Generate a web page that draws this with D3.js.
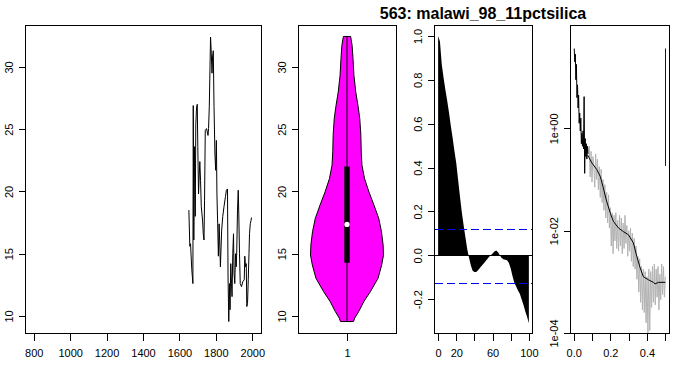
<!DOCTYPE html>
<html>
<head>
<meta charset="utf-8">
<script src="https://cdn.jsdelivr.net/npm/d3@7"></script>
<style>
body { margin: 0; background: #fff; }
svg { font-family: "Liberation Sans", Arial, sans-serif; }
.tick text { font-size: 11px; fill: #000; }
.tick line { stroke: #000; }
</style>
</head>
<body>
<script>
// ---- data ----
var title = "563: malawi_98_11pctsilica";

// raw series (year, value)
var years = [1652,1657,1661,1668,1674,1676,1679,1683,1687,1690,1694,1698,1701,1705,1709,1712,1716,1720,1727,1731,
  1735,1738,1742,1749,1757,1760,1764,1768,1771,1775,1779,1782,1786,1790,1795,1799,1803,1806,1810,1814,
  1818,1821,1825,1829,1832,1838,1845,1853,1858,1864,1867,1871,1875,1878,1882,1886,1889,1893,1897,1900,
  1904,1908,1912,1915,1919,1923,1926,1930,1934,1941,1948,1956,1959,1963,1967,1970,1974,1978,1982,1985,
  1989,1993,1996];
var values = [18.5,15.6,15.8,13.7,12.6,26.9,16.1,23.6,18.0,25.4,26.7,27.0,23.6,19.8,21.4,22.4,20.9,18.8,17.7,16.6,
  16.1,19.3,24.9,25.05,24.5,25.05,26.8,30.0,32.4,31.1,29.5,30.8,31.3,26.8,23.0,21.7,24.1,19.8,17.4,14.8,
  17.4,16.1,13.95,15.6,16.9,18.0,18.8,19.6,20.1,20.2,13.2,9.55,12.6,10.5,14.2,12.6,11.55,15.0,16.6,13.4,
  12.6,15.0,13.95,15.3,18.5,20.1,18.2,15.0,12.6,12.35,12.75,12.9,14.8,13.95,14.2,10.75,11.0,12.9,15.0,16.6,
  17.4,17.65,17.9];

// violin outline (value, relative density) and box stats
var violinAt = [9.55,9.82,10.35,11.15,11.95,13.02,14.09,14.89,15.69,16.76,17.83,18.90,19.97,21.04,22.11,23.18,24.51,25.85,26.92,27.99,29.33,30.67,31.73,32.45];
var violinDens = [0.18,0.21,0.32,0.46,0.64,0.85,0.95,1.0,0.99,0.945,0.87,0.74,0.60,0.48,0.41,0.39,0.38,0.35,0.30,0.24,0.19,0.165,0.14,0.10];
var boxStats = [9.55, 14.27, 17.35, 22.0, 32.45]; // min, q1, median, q3, max

// autocorrelation
var acfLag = [0,2,4,6,8,10,12,14,16,18,20,22,24,26,28,30,32,34,36,38,40,42,44,46,48,50,
  52,54,56,58,60,62,64,66,68,70,72,74,76,78,80,82,84,86,88,90,92,94,96,98,100];
var acfVal = [1.0,0.975,0.87,0.81,0.755,0.705,0.65,0.59,0.535,0.475,0.42,0.345,0.27,0.20,0.14,0.085,0.03,-0.01,-0.045,-0.07,-0.076,
  -0.076,-0.068,-0.058,-0.048,-0.038,-0.028,-0.018,-0.008,0.0,0.008,0.018,0.022,0.014,0.0,-0.012,-0.018,-0.02,-0.022,-0.035,-0.06,
  -0.095,-0.125,-0.142,-0.16,-0.175,-0.2,-0.225,-0.255,-0.28,-0.31];
var acfCI = [0.121, -0.128];

// spectrum, log10 power: low-frequency part (black) and the rest (grey)
var lowFreq = [0.003,0.006,0.009,0.012,0.015,0.018,0.021,0.024,0.027,0.030,0.033,0.036,0.039,0.042,0.045,0.048,0.051,0.054,0.057,0.060,0.063,0.066,0.069,0.072,0.075,0.078];
var lowLog = [1.56,1.30,1.45,0.95,1.25,0.60,0.85,0.40,0.65,0.10,0.30,-0.05,0.20,-0.30,-0.10,-0.35,-0.05,-0.40,0.62,-0.88,-0.20,-0.55,-0.30,-0.60,-0.35,-0.50];
var specFreq = [0.078,0.080,0.085,0.090,0.095,0.100,0.105,0.110,0.115,0.120,0.125,0.130,0.135,0.140,0.145,0.150,0.155,0.160,0.165,0.170,0.175,
  0.180,0.185,0.190,0.195,0.200,0.205,0.210,0.215,0.220,0.225,0.230,0.235,0.240,0.245,0.250,0.255,0.260,0.265,0.270,0.275,
  0.280,0.285,0.290,0.295,0.300,0.305,0.310,0.315,0.320,0.325,0.330,0.335,0.340,0.345,0.350,0.355,0.360,0.365,0.370,0.375,
  0.380,0.385,0.390,0.395,0.400,0.405,0.410,0.415,0.420,0.425,0.430,0.435,0.440,0.445,0.450,0.455,0.460,0.465,0.470,0.475,
  0.480,0.485,0.490,0.495,0.500];
var specLog = [-0.50,-0.45,-0.35,-0.95,-0.45,-1.05,-0.55,-0.75,-1.15,-0.50,-1.00,-0.60,-1.20,-0.75,-1.35,-0.80,-1.45,-1.00,-1.60,-1.10,-1.75,
  -1.25,-1.85,-1.30,-1.95,-1.55,-2.30,-1.65,-2.45,-1.70,-2.20,-1.65,-2.35,-1.80,-2.40,-1.70,-2.30,-1.75,-2.45,-1.85,-2.35,
  -1.70,-2.25,-1.90,-2.50,-2.00,-2.40,-1.95,-2.60,-2.05,-2.70,-2.15,-2.75,-2.30,-2.95,-2.50,-3.20,-2.55,-3.40,-2.70,-3.55,
  -2.75,-3.60,-2.80,-3.80,-2.90,-4.00,-2.75,-3.95,-2.80,-3.50,-2.70,-3.40,-2.65,-3.45,-2.75,-3.30,-2.70,-3.55,-2.85,-3.35,
  -2.65,-3.25,-2.70,-3.30,-2.90];
var smoothFreq = [0.076,0.10,0.127,0.145,0.16,0.178,0.20,0.217,0.245,0.272,0.299,0.326,0.345,0.363,0.38,0.408,0.435,0.444,0.462,0.5];
var smoothLog = [-0.52,-0.68,-0.81,-0.94,-1.14,-1.40,-1.66,-1.82,-1.95,-2.02,-2.08,-2.24,-2.51,-2.73,-2.90,-2.96,-3.01,-3.04,-3.01,-3.01];
var ciBar = [0.5, 0.184, 36.4]; // freq, lower, upper

// ---- layout ----
var W = 681, H = 371, plotTop = 25, plotBottom = 333;

var svg = d3.select("body").append("svg")
	.attr("width", W)
	.attr("height", H);

svg.append("text")
	.attr("x", 483)
	.attr("y", 19)
	.style("text-anchor", "middle")
	.style("font-weight", "bold")
	.style("font-size", "16px")
	.text(title);

function frame(x0, x1) {
	svg.append("rect")
		.attr("x", x0 + 0.5).attr("y", plotTop + 0.5)
		.attr("width", x1 - x0).attr("height", plotBottom - plotTop)
		.attr("fill", "none").attr("stroke", "#000")
		.attr("shape-rendering", "crispEdges");
}

function axes(x, y, xt, xl, yt, yl) {
	var gx = svg.append("g")
		.attr("transform", "translate(0," + (plotBottom + 0.5) + ")")
		.call(d3.axisBottom(x).tickValues(xt).tickSize(7).tickPadding(9).tickFormat(function(d, i) { return xl[i]; }));
	gx.select(".domain").remove();
	gx.selectAll("line").attr("shape-rendering", "crispEdges");
	var x0 = x.range()[0];
	var gy = svg.append("g")
		.attr("transform", "translate(" + (x0 + 0.5) + ",0)")
		.call(d3.axisLeft(y).tickValues(yt).tickSize(7).tickFormat(function(d, i) { return yl[i]; }));
	gy.select(".domain").remove();
	gy.selectAll("line").attr("shape-rendering", "crispEdges");
	gy.selectAll("text")
		.attr("transform", "rotate(-90)")
		.attr("x", 0).attr("y", -13).attr("dy", 0)
		.style("text-anchor", "middle");
}

// ---- panel 1: series ----
var x1 = d3.scaleLinear().domain([752, 2048]).range([25, 261]);
var y1 = d3.scaleLinear().domain([8.63, 33.37]).range([plotBottom, plotTop]);
frame(25, 261);
axes(x1, y1, [800,1000,1200,1400,1600,1800,2000], ["800","1000","1200","1400","1600","1800","2000"],
	[10,15,20,25,30], ["10","15","20","25","30"]);
svg.append("path")
	.datum(d3.range(years.length))
	.attr("fill", "none")
	.attr("stroke", "#000")
	.attr("stroke-width", 1)
	.attr("d", d3.line().x(function(i) { return x1(years[i]); }).y(function(i) { return y1(values[i]); }));

// ---- panel 2: violin ----
var x2 = d3.scaleLinear().domain([0.5, 1.5]).range([298, 396]);
var w2 = d3.scaleLinear().domain([0, 1]).range([0, 36.5]);
frame(298, 396);
axes(x2, y1, [1], ["1"], [10,15,20,25,30], ["10","15","20","25","30"]);
var vIdx = d3.range(violinAt.length);
svg.append("path")
	.datum(vIdx.concat(vIdx.slice().reverse().map(function(i) { return -1 - i; })))
	.attr("fill", "#ff00ff")
	.attr("stroke", "#000")
	.attr("d", d3.line()
		.x(function(k) { return k >= 0 ? x2(1) - w2(violinDens[k]) : x2(1) + w2(violinDens[-1 - k]); })
		.y(function(k) { return y1(violinAt[k >= 0 ? k : -1 - k]); })
		.curve(d3.curveLinearClosed));
svg.append("line")
	.attr("x1", x2(1)).attr("x2", x2(1))
	.attr("y1", y1(boxStats[0])).attr("y2", y1(boxStats[4]))
	.attr("stroke", "#000");
svg.append("rect")
	.attr("x", x2(1) - 2.7).attr("width", 5.4)
	.attr("y", y1(boxStats[3])).attr("height", y1(boxStats[1]) - y1(boxStats[3]))
	.attr("fill", "#000");
svg.append("circle")
	.attr("cx", x2(1)).attr("cy", y1(boxStats[2])).attr("r", 2.6)
	.attr("fill", "#fff");

// ---- panel 3: acf ----
var x3 = d3.scaleLinear().domain([-4, 104]).range([434.5, 532.5]);
var y3 = d3.scaleLinear().domain([-0.354, 1.05]).range([plotBottom, plotTop]);
frame(434, 532);
axes(x3, y3, [0,20,40,60,80,100], ["0","20","","60","","100"],
	[-0.2,0,0.2,0.4,0.6,0.8,1.0], ["-0.2","0.0","0.2","0.4","0.6","0.8","1.0"]);
svg.append("path")
	.datum(d3.range(acfLag.length))
	.attr("fill", "#000")
	.attr("d", d3.area().x(function(i) { return x3(acfLag[i]); }).y0(y3(0)).y1(function(i) { return y3(acfVal[i]); }));
svg.append("line")
	.attr("x1", 434).attr("x2", 532).attr("y1", Math.round(y3(0)) + 0.5).attr("y2", Math.round(y3(0)) + 0.5)
	.attr("stroke", "#000");
acfCI.forEach(function(c) {
	svg.append("line")
		.attr("x1", 435).attr("x2", 532).attr("y1", Math.round(y3(c)) + 0.5).attr("y2", Math.round(y3(c)) + 0.5)
		.attr("stroke", "#0000ff").attr("stroke-dasharray", "8,4");
});

// ---- panel 4: spectrum ----
var x4 = d3.scaleLinear().domain([-0.02, 0.52]).range([570, 669]);
var y4 = d3.scaleLog().domain([1e-4, Math.pow(10, 2.02)]).range([plotBottom, plotTop]);
frame(570, 669);
axes(x4, y4, [0,0.1,0.2,0.3,0.4,0.5], ["0.0","","0.2","","0.4",""],
	[1, 1e-2, 1e-4], ["1e+00","1e-02","1e-04"]);
svg.append("clipPath").attr("id", "c4").append("rect")
	.attr("x", 570).attr("y", plotTop).attr("width", 99).attr("height", plotBottom - plotTop);
function specLine(f, v, color) {
	svg.append("path")
		.datum(d3.range(f.length))
		.attr("clip-path", "url(#c4)")
		.attr("fill", "none")
		.attr("stroke", color)
		.attr("d", d3.line().x(function(i) { return x4(f[i]); }).y(function(i) { return y4(Math.pow(10, v[i])); }));
}
specLine(specFreq, specLog, "#b3b3b3");
specLine(lowFreq, lowLog, "#000");
specLine(smoothFreq, smoothLog, "#000");
svg.append("line")
	.attr("x1", Math.round(x4(ciBar[0])) + 0.5).attr("x2", Math.round(x4(ciBar[0])) + 0.5)
	.attr("y1", y4(ciBar[1])).attr("y2", y4(ciBar[2]))
	.attr("stroke", "#0000cc");
</script>
</body>
</html>
